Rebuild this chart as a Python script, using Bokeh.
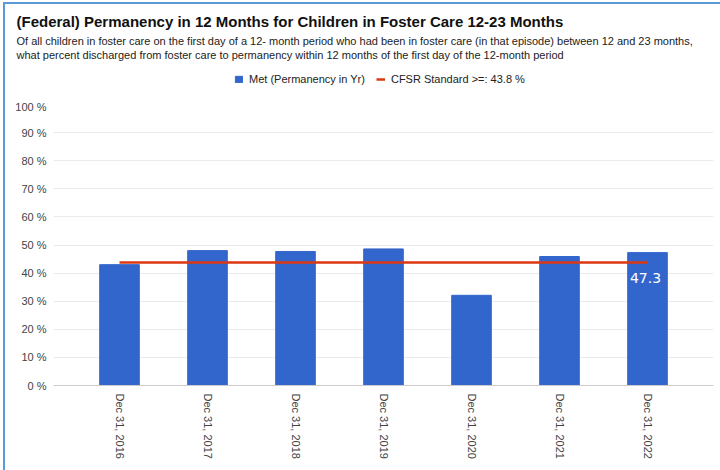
import math

from bokeh.core.properties import value
from bokeh.embed import file_html
from bokeh.layouts import column
from bokeh.models import (ColumnDataSource, FactorRange, FixedTicker, Label, Legend,
                          LegendItem, Range1d)
from bokeh.plotting import figure
from bokeh.resources import INLINE

# ---- data -------------------------------------------------------------
categories = ["Dec 31, 2016", "Dec 31, 2017", "Dec 31, 2018", "Dec 31, 2019",
              "Dec 31, 2020", "Dec 31, 2021", "Dec 31, 2022"]
met_pct = [43.0, 48.0, 47.7, 48.6, 32.1, 45.9, 47.3]
cfsr_standard = 43.8
show_value = [False, False, False, False, False, False, True]

y_ticks = [0, 10, 20, 30, 40, 50, 60, 70, 80, 90, 100]
y_tick_labels = ["0 %", "10 %", "20 %", "30 %", "40 %", "50 %",
                 "60 %", "70 %", "80 %", "90 %", "100 %"]

title_text = "(Federal) Permanency in 12 Months for Children in Foster Care 12-23 Months"
subtitle_lines = [
    "Of all children in foster care on the first day of a 12- month period who had been "
    "in foster care (in that episode) between 12 and 23 months,",
    "what percent discharged from foster care to permanency within 12 months of the "
    "first day of the 12-month period",
]
series_name = "Met (Permanency in Yr)"
standard_name = f"CFSR Standard >=: {cfsr_standard} %"

# ---- styling ------------------------------------------------------------
FONT = "Liberation Sans"
BAR_BLUE = "#3366cc"
STD_RED = "#dc3912"
EDGE_BLUE = "#5b9bd5"
W = 715            # width of both panels inside the blue edge
HEAD_H = 96        # header panel: title, subtitle, legend
CHART_H = 370      # chart panel
FRAME_H = 281

# ---- header panel -------------------------------------------------------
head = figure(width=W, height=HEAD_H, x_range=Range1d(0, 1), y_range=Range1d(0, 1),
              output_backend="svg", toolbar_location=None, min_border=0)
head.frame_align = False          # keep the header frame over its whole canvas
head.axis.visible = False
head.grid.visible = False
head.outline_line_color = None

head.add_layout(Label(x=11, y=HEAD_H - 17, x_units="screen", y_units="screen",
                      text=title_text, text_font=FONT, text_font_size="15px",
                      text_font_style="bold", text_color="#111111",
                      text_baseline="middle", text_align="left"))
for i, line in enumerate(subtitle_lines):
    head.add_layout(Label(x=11, y=HEAD_H - 36.5 - 13.5 * i, x_units="screen",
                          y_units="screen", text=line, text_font=FONT,
                          text_font_size="11px", text_color="#222222",
                          text_baseline="middle", text_align="left"))

# legend key glyphs: one point each, placed outside the header's visible range
key_src = ColumnDataSource(dict(x=[5.0], y=[5.0]))
key_bar = head.vbar(x="x", top="y", width=0.5, source=key_src,
                    fill_color=BAR_BLUE, line_color=BAR_BLUE)
key_line = head.line(x="x", y="y", source=key_src, line_color=STD_RED, line_width=2.5)

legend = Legend(
    items=[LegendItem(label=series_name, renderers=[key_bar]),
           LegendItem(label=standard_name, renderers=[key_line])],
    orientation="horizontal", location=(229, 15),
    glyph_width=9, glyph_height=8, label_standoff=6, spacing=11,
    label_height=12, label_width=10, padding=0, margin=0,
    border_line_color=None, background_fill_alpha=0,
    label_text_font=FONT, label_text_font_size="11px", label_text_color="#222222",
)
head.add_layout(legend)

# ---- chart panel --------------------------------------------------------
src = ColumnDataSource(dict(cat=categories, pct=met_pct))
lab_src = ColumnDataSource(dict(
    cat=[c for c, s in zip(categories, show_value) if s],
    pct=[v for v, s in zip(met_pct, show_value) if s],
    txt=[f"{v:.1f}" for v, s in zip(met_pct, show_value) if s],
))

p = figure(
    width=W, height=CHART_H,
    x_range=FactorRange(*categories, range_padding=0.5 / len(categories)),
    y_range=Range1d(0, 100),
    output_backend="svg", toolbar_location=None,
    min_border_left=48, min_border_right=7,
    min_border_top=4, min_border_bottom=CHART_H - 4 - FRAME_H,
)
p.frame_align = False
p.outline_line_color = None

bars = p.vbar(x="cat", top="pct", width=0.45, source=src,
              fill_color=BAR_BLUE, line_color=BAR_BLUE, line_width=1)
p.line(x=categories, y=[cfsr_standard] * len(categories),
       line_color=STD_RED, line_width=2.5)
p.text(x="cat", y="pct", text="txt", source=lab_src,
       text_align="center", text_baseline="middle", x_offset=-2, y_offset=25,
       text_color="white", text_font_size="14px", text_font=value("DejaVu Sans"))

p.xgrid.grid_line_color = None
p.ygrid.grid_line_color = "#ebebeb"
p.ygrid.grid_line_width = 1

p.yaxis.ticker = FixedTicker(ticks=y_ticks)
p.yaxis.major_label_overrides = dict(zip(y_ticks, y_tick_labels))
p.yaxis.axis_line_color = None
p.yaxis.major_tick_line_color = None
p.yaxis.minor_tick_line_color = None
p.yaxis.major_tick_in = 0
p.yaxis.major_tick_out = 0
p.yaxis.major_label_standoff = 7
p.yaxis.major_label_text_font = FONT
p.yaxis.major_label_text_font_size = "11px"
p.yaxis.major_label_text_color = "#444444"

p.xaxis.axis_line_color = "#cccccc"
p.xaxis.major_tick_line_color = None
p.xaxis.minor_tick_line_color = None
p.xaxis.major_tick_in = 0
p.xaxis.major_tick_out = 0
p.xaxis.major_label_orientation = -math.pi / 2
p.xaxis.major_label_standoff = 8
p.xaxis.major_label_text_font = FONT
p.xaxis.major_label_text_font_size = "11px"
p.xaxis.major_label_text_color = "#444444"

page = column(head, p, spacing=0, margin=(2, 0, 0, 3),
              styles={"border-top": f"2px solid {EDGE_BLUE}",
                      "border-left": f"2px solid {EDGE_BLUE}"})

open("out.html", "w").write(file_html(page, INLINE))
